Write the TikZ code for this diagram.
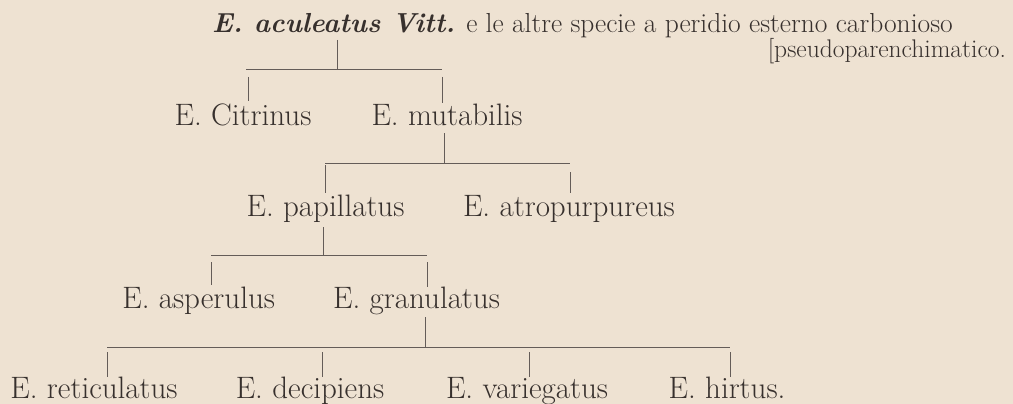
\documentclass[tikz,border=0pt]{standalone}
\usepackage{fontspec}
\definecolor{bg}{RGB}{238,226,210}
\definecolor{ink}{RGB}{55,48,45}
\definecolor{rulec}{RGB}{100,92,88}
\begin{document}
\begin{tikzpicture}[x=1pt,y=-1pt,
  every node/.style={inner sep=0pt, outer sep=0pt, text=ink},
  head/.style={font=\fontsize{27.5}{30}\selectfont},
  lbl/.style={anchor=base, font=\fontsize{31}{34}\selectfont},
  conn/.style={draw=rulec, line width=1pt}]
\fill[bg] (0,0) rectangle (1013,404);
\useasboundingbox (0,0) rectangle (1013,404);
% texts
\node[head, anchor=base west] (title) at (212,33) {\textbf{\textit{E. aculeatus Vitt.}} e le altre specie a peridio esterno carbonioso};
\node[anchor=base east, font=\fontsize{25.5}{28}\selectfont] (pseudo) at (1006,58) {[pseudoparenchimatico.};
\node[lbl] (cit) at (243,125) {E. Citrinus};
\node[lbl] (mut) at (447,125) {E. mutabilis};
\node[lbl] (pap) at (325.5,216) {E. papillatus};
\node[lbl, anchor=base west] (atr) at (463,216) {E. atropurpureus};
\node[lbl, anchor=base east] (asp) at (275,308) {E. asperulus};
\node[lbl] (gra) at (416.5,308) {E. granulatus};
\node[lbl] (ret) at (94,398) {E. reticulatus};
\node[lbl] (dec) at (310,398) {E. decipiens};
\node[lbl] (var) at (527,398) {E. variegatus};
\node[lbl] (hir) at (727,398) {E. hirtus.};
% junction coordinates
\coordinate (a0) at (337,40);  \coordinate (aj) at (337,70);
\coordinate (aL) at (246,70);  \coordinate (aR) at (442,70);
\coordinate (a1) at (248,77);  \coordinate (a2) at (442,77);
\coordinate (b0) at (444,133); \coordinate (bj) at (444,163);
\coordinate (bL) at (325,163); \coordinate (bR) at (570,163);
\coordinate (b1) at (325,165); \coordinate (b2) at (570,172);
\coordinate (c0) at (323,227); \coordinate (cj) at (323,255);
\coordinate (cL) at (211,255); \coordinate (cR) at (427,255);
\coordinate (c1) at (211,262); \coordinate (c2) at (427,262);
\coordinate (d0) at (425,317); \coordinate (dj) at (425,347);
\coordinate (dL) at (107,347); \coordinate (dR) at (730,347);
\coordinate (d1) at (107,352); \coordinate (d2) at (322,352);
\coordinate (d3) at (529,352); \coordinate (d4) at (730,352);
% connectors
\draw[conn] (a0) -- (aj);
\draw[conn] (aL) -- (aR);
\draw[conn] (a1) -- ++(0,24);
\draw[conn] (a2) -- ++(0,26);
\draw[conn] (b0) -- (bj);
\draw[conn] (bL) -- (bR);
\draw[conn] (b1) -- ++(0,28);
\draw[conn] (b2) -- ++(0,21);
\draw[conn] (c0) -- (cj);
\draw[conn] (cL) -- (cR);
\draw[conn] (c1) -- ++(0,23);
\draw[conn] (c2) -- ++(0,25);
\draw[conn] (d0) -- (dj);
\draw[conn] (dL) -- (dR);
\draw[conn] (d1) -- ++(0,25);
\draw[conn] (d2) -- ++(0,25);
\draw[conn] (d3) -- ++(0,25);
\draw[conn] (d4) -- ++(0,25);
\end{tikzpicture}
\end{document}
